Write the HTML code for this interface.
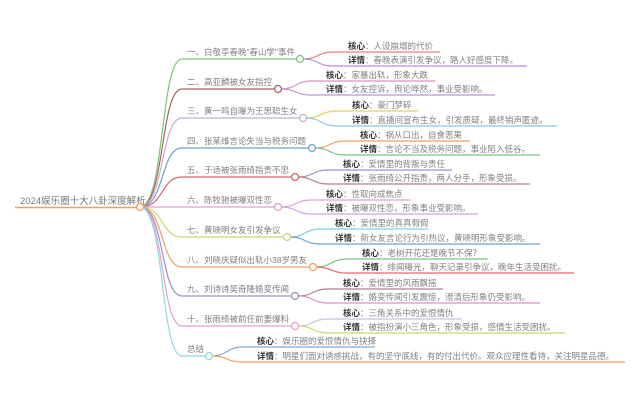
<!DOCTYPE html>
<html><head><meta charset="utf-8"><style>
html,body{margin:0;padding:0;background:#fff;}
svg{display:block;}
text{font-family:"Liberation Sans","Noto Sans CJK SC",sans-serif;font-size:8.5px;fill:#808080;}
.b{font-weight:bold;fill:#333;}
.m{font-size:9.5px;fill:#777;}
</style></head><body>
<svg width="640" height="414" viewBox="0 0 640 414" xmlns="http://www.w3.org/2000/svg" fill="none" stroke-width="1.2">
<line x1="15" y1="207.5" x2="140" y2="207.5" stroke="#f0a060" stroke-width="1.5"/>
<text x="20" y="204" class="m">2024娱乐圈十大八卦深度解析</text>

<path d="M140 207 C165 207,160 59,182 59 L300 59" stroke="#7cc47c"/>
<path d="M140 207 C165 207,160 89,182 89 L278 89" stroke="#a86060"/>
<path d="M140 207 C165 207,160 118,182 118 L303 118" stroke="#c0b0c8"/>
<path d="M140 207 C165 207,160 148,182 148 L312 148" stroke="#6fa0cc"/>
<path d="M140 207 C165 207,160 177,182 177 L295 177" stroke="#d06a6a"/>
<path d="M140 207 L278 207" stroke="#e0a0d0"/>
<path d="M140 207 C165 207,160 237,182 237 L287 237" stroke="#c8d870"/>
<path d="M140 207 C165 207,160 267,182 267 L313 267" stroke="#f0a060"/>
<path d="M140 207 C165 207,160 296,182 296 L295 296" stroke="#9a90c8"/>
<path d="M140 207 C165 207,160 326,182 326 L295 326" stroke="#e0a0d0"/>
<path d="M140 207 C165 207,160 356,182 356 L209 356" stroke="#8fd8e0"/>

<text x="187" y="55">一、白敬亭春晚"春山学"事件</text>
<text x="187" y="85">二、高亚麟被女友指控</text>
<text x="187" y="114">三、黄一鸣自曝为王思聪生女</text>
<text x="187" y="144">四、张某维言论失当与税务问题</text>
<text x="187" y="173">五、于适被张雨绮指责不忠</text>
<text x="187" y="203">六、陈牧驰被曝双性恋</text>
<text x="187" y="233">七、黄晓明女友引发争议</text>
<text x="187" y="263">八、刘晓庆疑似出轨小38岁男友</text>
<text x="187" y="292">九、刘诗诗吴奇隆婚变传闻</text>
<text x="187" y="322">十、张雨绮被前任前妻爆料</text>
<text x="187" y="352">总结</text>

<g>
<path d="M303 59 C318 59,318 52,333 52 L440 52" stroke="#e88080"/>
<path d="M303 59 C318 59,318 66,333 66 L527 66" stroke="#b090e0"/>
<path d="M281 89 C296 89,296 81,311 81 L435 81" stroke="#e090c0"/>
<path d="M281 89 C296 89,296 95,311 95 L495 95" stroke="#c090d0"/>
<path d="M306 118 C321 118,321 111,337 111 L418 111" stroke="#e0d060"/>
<path d="M306 118 C321 118,321 126,337 126 L557 126" stroke="#80c8f0"/>
<path d="M315 148 C330 148,330 141,345 141 L470 141" stroke="#f0a060"/>
<path d="M315 148 C330 148,330 155,345 155 L540 155" stroke="#80c080"/>
<path d="M298 177 C313 177,313 170,328 170 L452 170" stroke="#a090d0"/>
<path d="M298 177 C313 177,313 184,328 184 L530 184" stroke="#b08080"/>
<path d="M281 207 C296 207,296 200,311 200 L410 200" stroke="#e0a0d0"/>
<path d="M281 207 C296 207,296 214,311 214 L478 214" stroke="#d0a0e0"/>
<path d="M290 237 C305 237,305 229,320 229 L428 229" stroke="#80d0e0"/>
<path d="M290 237 C305 237,305 244,320 244 L540 244" stroke="#6fa0cc"/>
<path d="M316 267 C331 267,331 259,347 259 L488 259" stroke="#80c080"/>
<path d="M316 267 C331 267,331 273,347 273 L574 273" stroke="#e06a6a"/>
<path d="M298 296 C313 296,313 289,328 289 L443 289" stroke="#b08090"/>
<path d="M298 296 C313 296,313 303,328 303 L540 303" stroke="#e090c0"/>
<path d="M298 326 C313 326,313 319,328 319 L462 319" stroke="#c0c8d8"/>
<path d="M298 326 C313 326,313 333,328 333 L565 333" stroke="#c8d870"/>
<path d="M212 356 C227 356,227 347,242 347 L375 347" stroke="#80a8d8"/>
<path d="M212 356 C227 356,227 362,242 362 L625 362" stroke="#f0a060"/>
</g>

<g fill="#fff" stroke-width="1.3">
<circle cx="140" cy="207" r="3.5" stroke="#f0a060"/>
<circle cx="300" cy="59" r="3.5" stroke="#7cc47c"/>
<circle cx="278" cy="89" r="3.5" stroke="#a86060"/>
<circle cx="303" cy="118" r="3.5" stroke="#c0b0c8"/>
<circle cx="312" cy="148" r="3.5" stroke="#6fa0cc"/>
<circle cx="295" cy="177" r="3.5" stroke="#d06a6a"/>
<circle cx="278" cy="207" r="3.5" stroke="#e0a0d0"/>
<circle cx="287" cy="237" r="3.5" stroke="#c8d870"/>
<circle cx="313" cy="267" r="3.5" stroke="#f0a060"/>
<circle cx="295" cy="296" r="3.5" stroke="#9a90c8"/>
<circle cx="295" cy="326" r="3.5" stroke="#e0a0d0"/>
<circle cx="209" cy="356" r="3.5" stroke="#8fd8e0"/>
</g>

<text x="348" y="49"><tspan class="b">核心</tspan>：人设崩塌的代价</text>
<text x="348" y="63"><tspan class="b">详情</tspan>：春晚表演引发争议，路人好感度下降。</text>
<text x="326" y="78"><tspan class="b">核心</tspan>：家暴出轨，形象大跌</text>
<text x="326" y="92"><tspan class="b">详情</tspan>：女友控诉，舆论哗然，事业受影响。</text>
<text x="352" y="108"><tspan class="b">核心</tspan>：豪门梦碎</text>
<text x="352" y="123"><tspan class="b">详情</tspan>：直播间宣布生女，引发质疑，最终销声匿迹。</text>
<text x="360" y="138"><tspan class="b">核心</tspan>：祸从口出，自食恶果</text>
<text x="360" y="152"><tspan class="b">详情</tspan>：言论不当及税务问题，事业陷入低谷。</text>
<text x="343" y="167"><tspan class="b">核心</tspan>：爱情里的背叛与责任</text>
<text x="343" y="181"><tspan class="b">详情</tspan>：张雨绮公开指责，两人分手，形象受损。</text>
<text x="326" y="197"><tspan class="b">核心</tspan>：性取向成焦点</text>
<text x="326" y="211"><tspan class="b">详情</tspan>：被曝双性恋，形象事业受影响。</text>
<text x="335" y="226"><tspan class="b">核心</tspan>：爱情里的真真假假</text>
<text x="335" y="241"><tspan class="b">详情</tspan>：新女友言论行为引热议，黄晓明形象受影响。</text>
<text x="362" y="256"><tspan class="b">核心</tspan>：老树开花还是晚节不保？</text>
<text x="362" y="270"><tspan class="b">详情</tspan>：绯闻曝光，聊天记录引争议，晚年生活受困扰。</text>
<text x="343" y="286"><tspan class="b">核心</tspan>：爱情里的风雨飘摇</text>
<text x="343" y="300"><tspan class="b">详情</tspan>：婚变传闻引发震惊，澄清后形象仍受影响。</text>
<text x="343" y="316"><tspan class="b">核心</tspan>：三角关系中的爱恨情仇</text>
<text x="343" y="330"><tspan class="b">详情</tspan>：被指扮演小三角色，形象受损，感情生活受困扰。</text>
<text x="257" y="344"><tspan class="b">核心</tspan>：娱乐圈的爱恨情仇与抉择</text>
<text x="257" y="359"><tspan class="b">详情</tspan>：明星们面对诱惑挑战，有的坚守底线，有的付出代价。观众应理性看待，关注明星品德。</text>
</svg>
</body></html>
